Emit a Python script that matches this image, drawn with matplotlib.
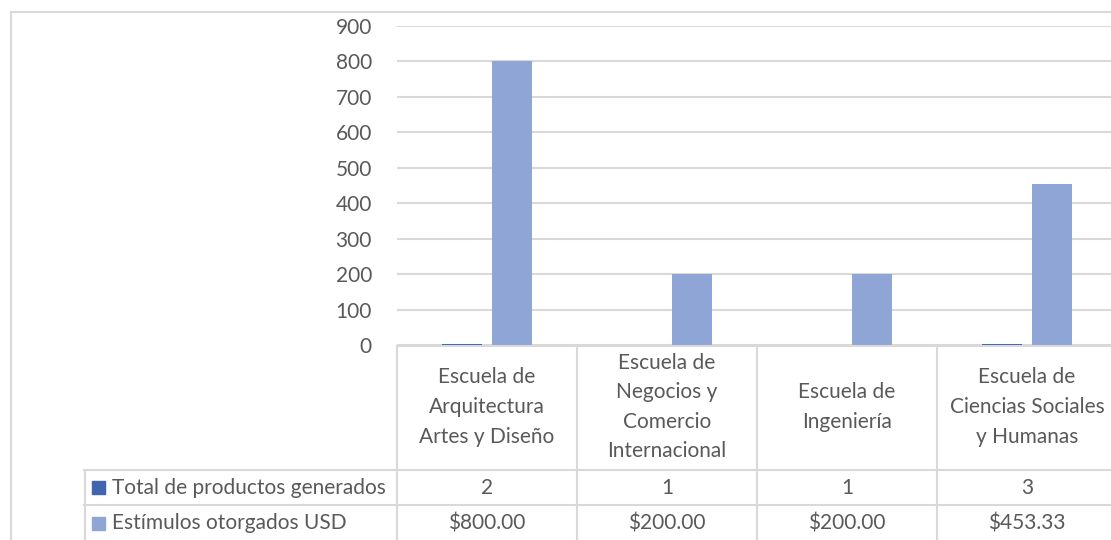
import numpy as np
import matplotlib.pyplot as plt
import matplotlib.patches as mpatches

# Data
categories = [
    "Escuela de\nArquitectura\nArtes y Diseño",
    "Escuela de\nNegocios y\nComercio\nInternacional",
    "Escuela de\nIngeniería",
    "Escuela de\nCiencias Sociales\ny Humanas",
]
series_names = ["Total de productos generados", "Estímulos otorgados USD"]
total_productos = [2, 1, 1, 3]
estimulos_usd = [800.00, 200.00, 200.00, 453.33]
y_ticks = [0, 100, 200, 300, 400, 500, 600, 700, 800, 900]

colors = ["#4064ad", "#8fa5d6"]
grid_c = "#d9d9d9"
text_c = "#595959"
FONT = "Lato"
FS = 15

W, H = 1111, 540
fig = plt.figure(figsize=(W / 100, H / 100), dpi=100)

def px_rect(x0, y0, x1, y1):
    # figure pixel box (top-left origin) -> fraction rect
    return [x0 / W, 1 - y1 / H, (x1 - x0) / W, (y1 - y0) / H]

# outer chart border
fig.patches.append(mpatches.Rectangle((11 / W, -0.1), 1.2, 1 - 12 / H + 0.1,
                                      transform=fig.transFigure, fill=False,
                                      ec=grid_c, lw=1.5))

col_w = 180
x_plot0, x_plot1 = 397, 397 + 4 * col_w
ax = fig.add_axes(px_rect(x_plot0, 26, x_plot1, 345))
x = np.arange(len(categories))
bw = 40 / col_w
off = 25 / col_w
ax.bar(x - off, total_productos, bw, color=colors[0], zorder=3)
ax.bar(x + off, estimulos_usd, bw, color=colors[1], zorder=3)
ax.set_xlim(-0.5, len(categories) - 0.5)
ax.set_ylim(0, 900)
ax.set_yticks(y_ticks)
ax.set_yticklabels([str(t) for t in y_ticks], fontsize=FS, color=text_c, family=FONT)
ax.tick_params(axis="y", length=0, pad=18)
ax.set_xticks([])
ax.grid(axis="y", color=grid_c, lw=1.5, zorder=0)
for s in ax.spines.values():
    s.set_visible(False)

# data table below the plot
x_lab0 = 84
tab = fig.add_axes(px_rect(x_lab0, 345, x_plot1, H))
tab.set_xlim(-0.5 - (x_plot0 - x_lab0) / col_w, len(categories) - 0.5)
tab.set_ylim(H, 345)
tab.axis("off")
xl = tab.get_xlim()[0]

# horizontal lines
tab.plot([-0.5, len(categories) - 0.5], [346, 346], color=grid_c, lw=1.5, clip_on=False)
for yy in [470, 505]:
    tab.plot([xl, len(categories) - 0.5], [yy, yy], color=grid_c, lw=1.5, clip_on=False)
# vertical lines
for i in range(len(categories) + 1):
    tab.plot([i - 0.5, i - 0.5], [346, H], color=grid_c, lw=1.5, clip_on=False)
tab.plot([xl + 0.003, xl + 0.003], [470, H], color=grid_c, lw=1.5, clip_on=False)

for i, c in enumerate(categories):
    tab.text(i, 407, c, ha="center", va="center", fontsize=FS, color=text_c,
             family=FONT, linespacing=1.6)

row_y = [487.5, 523]
rows = [[str(v) for v in total_productos], [f"${v:,.2f}" for v in estimulos_usd]]
for r, (name, vals) in enumerate(zip(series_names, rows)):
    key = 13 / col_w
    tab.add_patch(mpatches.Rectangle((xl + 8 / col_w, row_y[r] - 6.5), key, 13,
                                     color=colors[r], clip_on=False))
    tab.text(xl + 28 / col_w, row_y[r], name, ha="left", va="center", fontsize=FS,
             color=text_c, family=FONT)
    for i, v in enumerate(vals):
        tab.text(i, row_y[r], v, ha="center", va="center", fontsize=FS,
                 color=text_c, family=FONT)

fig.savefig("out.png", dpi=100)
